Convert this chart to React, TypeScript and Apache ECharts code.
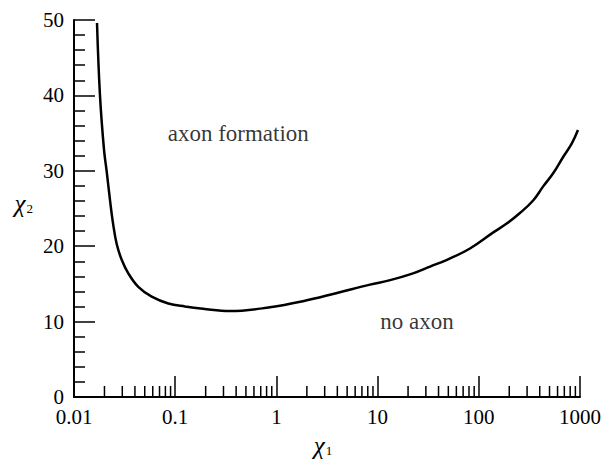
import React, { useEffect, useRef } from "react";
import * as echarts from "echarts";

// Curve: chi1 (log scale) vs chi2 threshold
const chi1Values = [
  0.01688, 0.01806, 0.01979, 0.02105, 0.02269, 0.02445, 0.02642, 0.0296,
  0.03441, 0.04319, 0.05858, 0.08547, 0.125, 0.1882, 0.3479, 0.865, 1.83,
  3.97, 8.41, 13.3, 22.4, 33.0, 48.5, 81.8, 138, 188.6, 255, 346, 431, 545,
  679, 828, 955,
];
const chi2Values = [
  49.6, 40, 32.8, 29.9, 26.1, 22.8, 20.3, 18.2,
  16.4, 14.6, 13.3, 12.4, 12.0, 11.7, 11.4, 11.9, 12.7,
  13.8, 14.9, 15.5, 16.4, 17.3, 18.2, 19.7, 21.8, 23.0, 24.4, 26.1, 27.9, 29.7,
  31.8, 33.6, 35.4,
];

// Axis definitions
const xMin = 0.01;
const xMax = 1000;
const yMin = 0;
const yMax = 50;
const yInterval = 10;
const xMinorTicks = [
  0.02, 0.03, 0.04, 0.05, 0.06, 0.07, 0.08, 0.09,
  0.2, 0.3, 0.4, 0.5, 0.6, 0.7, 0.8, 0.9,
  2, 3, 4, 5, 6, 7, 8, 9,
  20, 30, 40, 50, 60, 70, 80, 90,
  200, 300, 400, 500, 600, 700, 800, 900,
];

// Region annotations (data coordinates)
const annotationLabels = ["axon formation", "no axon"];
const annotationX = [0.42, 24.5];
const annotationY = [35.0, 10.0];

const FONT = "Liberation Serif";

export default function App() {
  const ref = useRef<HTMLDivElement>(null);

  useEffect(() => {
    if (!ref.current) return;
    const chart = echarts.init(ref.current, undefined, { renderer: "svg" });

    const nameRich = {
      a: { fontFamily: FONT, fontSize: 25, fontStyle: "italic", color: "#000" },
      b: { fontFamily: FONT, fontSize: 13, color: "#000", padding: [10, 0, 0, 1] },
    };

    const option: any = {
      animation: false,
      backgroundColor: "#ffffff",
      textStyle: { fontFamily: FONT, color: "#000" },
      grid: { left: 74, right: 29, top: 20, bottom: 69, containLabel: false },
      xAxis: {
        type: "log",
        logBase: 10,
        min: xMin,
        max: xMax,
        name: "{a|χ}{b|1}",
        nameLocation: "middle",
        nameGap: 36,
        nameTextStyle: { rich: nameRich, padding: [0, 8, 0, 0] },
        axisLine: { show: true, lineStyle: { color: "#000", width: 2 } },
        axisTick: { show: true, inside: true, length: 21, lineStyle: { color: "#000", width: 1.5 } },
        axisLabel: {
          fontFamily: FONT,
          fontSize: 21,
          color: "#000",
          margin: 9,
          formatter: (v: number) => {
            if (v >= 1) return String(Math.round(v));
            return String(Number(v.toPrecision(1)));
          },
        },
        splitLine: { show: false },
        minorTick: { show: false },
      },
      yAxis: {
        type: "value",
        min: yMin,
        max: yMax,
        interval: yInterval,
        name: "{a|χ}{b|2}",
        nameLocation: "middle",
        nameRotate: 0,
        nameGap: 41,
        nameTextStyle: { rich: nameRich, padding: [0, 0, 10, 0] },
        axisLine: { show: true, lineStyle: { color: "#000", width: 2 } },
        axisTick: { show: true, inside: true, length: 21, lineStyle: { color: "#000", width: 1.5 } },
        minorTick: { show: true, splitNumber: 5, length: 11, lineStyle: { color: "#000", width: 1.5 } },
        axisLabel: { fontFamily: FONT, fontSize: 21, color: "#000", margin: 10 },
        splitLine: { show: false },
      },
      series: [
        {
          type: "line",
          data: chi1Values.map((x, i) => [x, chi2Values[i]]),
          showSymbol: false,
          smooth: 0.4,
          lineStyle: { color: "#000", width: 2.5 },
          silent: true,
        },
        {
          type: "custom",
          silent: true,
          data: xMinorTicks.map((v) => [v, yMin]),
          renderItem: (params: any, api: any) => {
            const p = api.coord([api.value(0), api.value(1)]);
            return {
              type: "line",
              shape: { x1: p[0], y1: p[1], x2: p[0], y2: p[1] - 11 },
              style: { stroke: "#000", lineWidth: 1.5 },
            };
          },
        },
        {
          type: "scatter",
          silent: true,
          symbolSize: 0,
          data: annotationLabels.map((t, i) => ({ name: t, value: [annotationX[i], annotationY[i]] })),
          label: {
            show: true,
            position: "inside",
            formatter: (p: any) => p.name,
            fontFamily: FONT,
            fontSize: 23,
            color: "#000",
          },
        },
      ],
    };

    chart.setOption(option);
    return () => chart.dispose();
  }, []);

  return (
    <div
      ref={ref}
      style={{ position: "absolute", left: 0, top: 0, width: 609, height: 466, background: "#fff" }}
    />
  );
}
